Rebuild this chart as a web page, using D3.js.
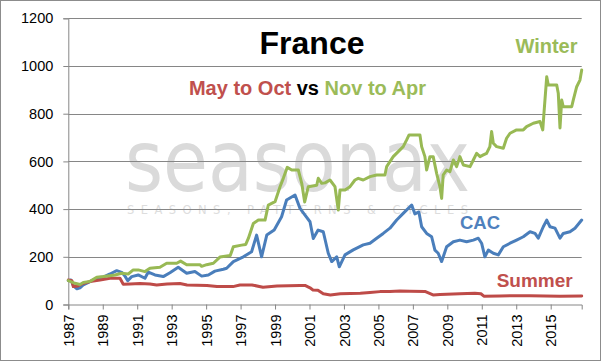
<!DOCTYPE html>
<html>
<head>
<meta charset="utf-8">
<script src="https://cdn.jsdelivr.net/npm/d3@7"></script>
<style>
  html, body { margin: 0; padding: 0; background: #fff; }
  svg { display: block; }
</style>
</head>
<body>
<svg id="chart" width="601" height="361"></svg>
<script>
// ---- DATA (decimal year on the chart's axis, index value) ----
const yTicks = [0, 200, 400, 600, 800, 1000, 1200];
const xTickYears = [1987, 1989, 1991, 1993, 1995, 1997, 1999, 2001, 2003, 2005, 2007, 2009, 2011, 2013, 2015];
const xDomain = [1987, 2016.8];

const cacSeries = [
  [1987.00,100],[1987.15,103],[1987.30,78],[1987.50,66],[1987.68,70],[1987.87,82],
  [1988.26,96],[1988.65,110],[1989.03,115],[1989.42,128],[1989.81,142],[1990.10,135],
  [1990.30,118],[1990.45,100],[1990.68,117],[1991.06,124],[1991.45,110],[1991.64,136],
  [1992.03,124],[1992.51,117],[1992.90,133],[1993.38,156],[1993.87,131],[1994.35,138],
  [1994.74,119],[1995.13,124],[1995.51,140],[1996.00,148],[1996.19,152],[1996.58,180],
  [1997.16,200],[1997.64,221],[1997.93,291],[1998.22,200],[1998.52,291],[1998.95,312],
  [1999.38,368],[1999.67,438],[2000.16,459],[2000.45,403],[2000.74,375],[2001.03,347],
  [2001.22,277],[2001.50,312],[2001.80,305],[2002.09,215],[2002.29,180],[2002.58,200],
  [2002.73,158],[2003.06,208],[2003.54,229],[2004.12,250],[2004.51,257],[2004.90,278],
  [2005.28,298],[2005.67,320],[2006.06,354],[2006.44,382],[2006.93,417],[2007.12,380],
  [2007.35,388],[2007.51,326],[2007.80,298],[2008.09,284],[2008.28,228],[2008.47,215],
  [2008.67,180],[2008.96,242],[2009.35,263],[2009.73,270],[2010.12,263],[2010.51,270],
  [2010.80,278],[2010.99,257],[2011.18,200],[2011.38,228],[2011.67,215],[2011.96,208],
  [2012.25,242],[2012.64,257],[2013.02,270],[2013.41,284],[2013.80,305],[2014.09,298],
  [2014.28,278],[2014.57,326],[2014.77,354],[2014.96,326],[2015.25,320],[2015.54,278],
  [2015.73,298],[2016.12,305],[2016.41,320],[2016.80,354]
];

const summerSeries = [
  [1987.00,103],[1987.21,100],[1987.29,75],[1987.56,78],[1987.85,88],[1988.26,96],
  [1988.84,103],[1989.42,110],[1990.00,110],[1990.19,85],[1990.58,86],[1991.16,88],
  [1991.74,86],[1992.13,82],[1992.73,86],[1993.48,88],[1993.89,82],[1995.05,80],
  [1995.63,75],[1996.56,75],[1996.96,82],[1997.66,82],[1998.30,72],[1999.11,78],
  [2000.45,80],[2000.74,80],[2001.03,70],[2001.20,61],[2001.49,60],[2001.80,45],
  [2002.21,40],[2002.79,45],[2003.95,47],[2004.51,50],[2005.09,54],[2005.67,55],
  [2006.25,57],[2006.83,56],[2007.70,55],[2008.17,40],[2008.58,42],[2009.73,45],
  [2010.60,47],[2010.95,45],[2011.12,35],[2012.05,36],[2013.80,37],[2015.54,35],
  [2016.80,36]
];

const winterSeries = [
  [1987.00,100],[1987.39,89],[1987.68,84],[1987.87,92],[1988.26,97],[1988.65,114],
  [1989.03,117],[1989.42,121],[1989.71,124],[1990.10,131],[1990.48,128],[1990.77,145],
  [1991.06,145],[1991.45,138],[1991.74,152],[1992.32,156],[1992.71,173],[1993.29,173],
  [1993.52,182],[1993.87,167],[1994.64,167],[1994.74,160],[1995.03,167],[1995.42,173],
  [1995.80,199],[1996.40,205],[1996.58,242],[1997.06,249],[1997.30,252],[1997.45,277],
  [1997.74,340],[1998.03,354],[1998.42,354],[1998.61,417],[1999.00,431],[1999.29,494],
  [1999.48,529],[1999.71,575],[1999.97,564],[2000.35,564],[2000.55,508],[2000.72,430],
  [2000.93,494],[2001.42,500],[2001.51,529],[2001.71,508],[2001.90,510],[2002.19,522],
  [2002.48,494],[2002.67,396],[2002.77,480],[2003.06,480],[2003.35,494],[2003.64,522],
  [2003.83,529],[2004.12,522],[2004.51,536],[2004.90,543],[2005.38,543],[2005.48,578],
  [2005.86,620],[2006.15,641],[2006.44,662],[2006.64,690],[2006.78,711],[2007.41,711],
  [2007.51,662],[2007.70,620],[2007.80,564],[2007.99,620],[2008.18,620],[2008.38,550],
  [2008.57,494],[2008.67,445],[2008.76,543],[2008.96,564],[2009.15,557],[2009.35,606],
  [2009.54,578],[2009.73,620],[2009.93,585],[2010.32,578],[2010.51,606],[2010.70,634],
  [2010.90,620],[2011.09,627],[2011.28,634],[2011.47,662],[2011.57,725],[2011.67,676],
  [2011.86,662],[2012.25,655],[2012.44,697],[2012.64,718],[2013.02,732],[2013.41,732],
  [2013.60,746],[2013.99,760],[2014.38,767],[2014.54,732],[2014.61,802],[2014.77,955],
  [2014.86,920],[2015.35,920],[2015.44,886],[2015.54,740],[2015.64,857],[2015.73,829],
  [2016.22,829],[2016.31,857],[2016.51,913],[2016.70,941],[2016.80,983]
];

// ---- LAYOUT ----
const svg = d3.select("#chart");
const plotLeft = 68.3, plotRight = 581.7, plotTop = 18.3, plotBottom = 304.5;
const gridColor = "#868686";
const axisFont = "'Liberation Sans', Arial, sans-serif";

const x = d3.scaleLinear().domain(xDomain).range([plotLeft, plotRight]);
const y = d3.scaleLinear().domain([0, 1200]).range([plotBottom, plotTop]);

// outer border
svg.append("rect").attr("x", 0.5).attr("y", 0.5).attr("width", 600).attr("height", 360)
  .attr("fill", "#fff").attr("stroke", "#8c8c8c").attr("stroke-width", 1);

// watermark
const wm = svg.append("g").attr("fill", "#dadada");
wm.append("text").attr("x", 125).attr("y", 191)
  .attr("font-family", "'DejaVu Sans', sans-serif").attr("font-size", 85)
  .attr("textLength", 345).attr("lengthAdjust", "spacingAndGlyphs")
  .text("seasonax");
wm.append("text").attr("x", 127).attr("y", 213.5)
  .attr("font-family", "'DejaVu Sans', sans-serif").attr("font-size", 11.5)
  .attr("fill", "#dddddd")
  .attr("textLength", 341).attr("lengthAdjust", "spacing")
  .text("SEASONS, PATTERNS & CYCLES");

// gridlines + y axis
const yAxis = d3.axisLeft(y).tickValues(yTicks).tickSize(5).tickPadding(10).tickFormat(d3.format("d"));
const gy = svg.append("g").attr("transform", `translate(${plotLeft},0)`).call(yAxis);
gy.select(".domain").attr("stroke", gridColor);
gy.selectAll(".tick line").attr("stroke", gridColor);
gy.selectAll(".tick text").attr("font-family", axisFont).attr("font-size", 14.5).attr("fill", "#000");

svg.append("g").selectAll("line").data(yTicks.filter(d => d > 0)).join("line")
  .attr("x1", plotLeft).attr("x2", plotRight)
  .attr("y1", d => Math.round(y(d)) + 0.5).attr("y2", d => Math.round(y(d)) + 0.5)
  .attr("stroke", gridColor).attr("stroke-width", 1);

// x axis
const xAxis = d3.axisBottom(x).tickValues(xTickYears).tickSize(5).tickPadding(10).tickFormat(d3.format("d"));
const gx = svg.append("g").attr("transform", `translate(0,${plotBottom})`).call(xAxis);
gx.select(".domain").attr("stroke", gridColor);
gx.selectAll(".tick line").attr("stroke", gridColor);
gx.selectAll(".tick text")
  .attr("font-family", axisFont).attr("font-size", 14.5).attr("fill", "#000")
  .attr("transform", "rotate(-90)")
  .attr("text-anchor", "end")
  .attr("x", -10).attr("y", 0).attr("dy", "0.35em");

// series
const line = d3.line().x(d => x(d[0])).y(d => y(d[1]));
const series = [
  { data: cacSeries, color: "#4a7ebb" },
  { data: summerSeries, color: "#be4b48" },
  { data: winterSeries, color: "#98b954" }
];
svg.append("g").selectAll("path").data(series).join("path")
  .attr("d", s => line(s.data))
  .attr("fill", "none")
  .attr("stroke", s => s.color)
  .attr("stroke-width", 3)
  .attr("stroke-linejoin", "round")
  .attr("stroke-linecap", "round");

// titles and labels
const boldFont = "'Liberation Sans', Arial, sans-serif";
svg.append("text").attr("x", 312).attr("y", 54.3).attr("text-anchor", "middle")
  .attr("font-family", boldFont).attr("font-weight", "bold").attr("font-size", 32)
  .attr("fill", "#000").text("France");

const sub = svg.append("text").attr("x", 307.5).attr("y", 95).attr("text-anchor", "middle")
  .attr("font-family", boldFont).attr("font-weight", "bold").attr("font-size", 20);
sub.append("tspan").attr("fill", "#c0504d").text("May to Oct ");
sub.append("tspan").attr("fill", "#000").text("vs ");
sub.append("tspan").attr("fill", "#9bbb59").text("Nov to Apr");

svg.append("text").attr("x", 577.5).attr("y", 53.3).attr("text-anchor", "end")
  .attr("font-family", boldFont).attr("font-weight", "bold").attr("font-size", 20)
  .attr("fill", "#9bbb59").text("Winter");
svg.append("text").attr("x", 460).attr("y", 229.3)
  .attr("font-family", boldFont).attr("font-weight", "bold").attr("font-size", 18.5)
  .attr("fill", "#4f81bd").text("CAC");
svg.append("text").attr("x", 572.7).attr("y", 286.7).attr("text-anchor", "end")
  .attr("font-family", boldFont).attr("font-weight", "bold").attr("font-size", 19)
  .attr("fill", "#c0504d").text("Summer");
</script>
</body>
</html>
